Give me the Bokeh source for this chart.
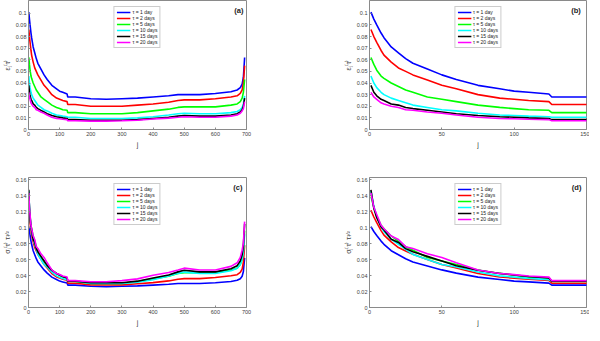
from bokeh.plotting import figure
from bokeh.models import Range1d, FixedTicker, NumeralTickFormatter, Label
from bokeh.layouts import column, row
from bokeh.embed import file_html
from bokeh.resources import INLINE
import math

# ---------------- data ----------------
taus = [1, 2, 5, 10, 15, 20]
tau_labels = ["τ = 1 day", "τ = 2 days", "τ = 5 days", "τ = 10 days", "τ = 15 days", "τ = 20 days"]
colors = ["#0000ff", "#ff0000", "#00ff00", "#00ffff", "#000000", "#ff00ff"]

j_vals = [1, 3, 5, 8, 10, 15, 20, 25, 30, 40, 50, 60, 75, 90, 100, 110, 124, 126, 150,
          200, 250, 300, 350, 400, 450, 480, 500, 550, 600, 650, 670, 680, 686, 690, 694]

eps_tau1 = [0.101, 0.095, 0.090, 0.083, 0.079, 0.071, 0.066, 0.061, 0.057, 0.052, 0.047, 0.043,
            0.038, 0.035, 0.033, 0.032, 0.0305, 0.028, 0.028, 0.0265, 0.026, 0.0265, 0.027, 0.028,
            0.029, 0.030, 0.030, 0.030, 0.031, 0.0325, 0.034, 0.036, 0.039, 0.045, 0.062]
eps_tau2 = [0.086, 0.080, 0.075, 0.068, 0.064, 0.058, 0.053, 0.050, 0.047, 0.0425, 0.038, 0.035,
            0.030, 0.027, 0.026, 0.025, 0.024, 0.0215, 0.0215, 0.020, 0.020, 0.020, 0.021, 0.022,
            0.0235, 0.025, 0.0255, 0.0255, 0.0265, 0.028, 0.029, 0.031, 0.034, 0.040, 0.055]
eps_tau5 = [0.062, 0.056, 0.051, 0.046, 0.044, 0.040, 0.037, 0.034, 0.032, 0.028, 0.026, 0.024,
            0.021, 0.019, 0.018, 0.017, 0.0165, 0.0145, 0.0145, 0.0135, 0.0135, 0.0135, 0.0145, 0.016,
            0.0175, 0.019, 0.0195, 0.0195, 0.0195, 0.021, 0.022, 0.024, 0.027, 0.032, 0.043]
eps_tau10 = [0.046, 0.040, 0.036, 0.032, 0.030, 0.027, 0.025, 0.023, 0.021, 0.019, 0.017, 0.016,
             0.014, 0.0125, 0.012, 0.0115, 0.011, 0.0105, 0.0105, 0.0095, 0.0095, 0.0095, 0.010, 0.011,
             0.0125, 0.0135, 0.014, 0.0135, 0.0135, 0.0145, 0.0155, 0.017, 0.019, 0.022, 0.029]
eps_tau15 = [0.038, 0.032, 0.029, 0.026, 0.025, 0.022, 0.021, 0.019, 0.018, 0.0165, 0.015, 0.0135,
             0.012, 0.011, 0.0105, 0.010, 0.0095, 0.0085, 0.0085, 0.008, 0.008, 0.008, 0.0085, 0.0095,
             0.0105, 0.0115, 0.012, 0.0115, 0.0115, 0.0125, 0.0135, 0.015, 0.017, 0.020, 0.027]
eps_tau20 = [0.032, 0.028, 0.026, 0.023, 0.022, 0.020, 0.019, 0.017, 0.0165, 0.015, 0.014, 0.0125,
             0.0105, 0.0095, 0.0092, 0.0088, 0.0085, 0.0075, 0.0075, 0.0072, 0.0072, 0.0075, 0.008, 0.009,
             0.0098, 0.0105, 0.011, 0.0105, 0.0105, 0.0115, 0.0125, 0.014, 0.016, 0.018, 0.024]

eps_series = [eps_tau1, eps_tau2, eps_tau5, eps_tau10, eps_tau15, eps_tau20]

xticks_full = [0, 100, 200, 300, 400, 500, 600, 700]
xticks_zoom = [0, 50, 100, 150]
yticks_eps = [0, 0.01, 0.02, 0.03, 0.04, 0.05, 0.06, 0.07, 0.08, 0.09, 0.1]
yticks_sig = [0, 0.02, 0.04, 0.06, 0.08, 0.1, 0.12, 0.14, 0.16]

FONT = "Liberation Sans"
AX = "#8a8a8a"
TXT = "#404040"


def make_panel(series, xmax, ymax, xticks, yticks, ylabel, tag, tag_x, tag_y,
               frame_w, frame_h, b_left, b_right, b_top, b_bottom):
    p = figure(frame_width=frame_w, frame_height=frame_h,
               min_border_left=b_left, min_border_right=b_right,
               min_border_top=b_top, min_border_bottom=b_bottom,
               x_range=Range1d(0, xmax), y_range=Range1d(0, ymax),
               output_backend="svg", toolbar_location=None, tools="")
    p.background_fill_color = "white"
    p.border_fill_color = "white"
    p.outline_line_color = AX
    p.outline_line_width = 1
    p.grid.visible = False
    for ys, c, lab in zip(series, colors, tau_labels):
        p.line(j_vals, ys, line_color=c, line_width=1.6, legend_label=lab)
    for ax in (p.xaxis[0], p.yaxis[0]):
        ax.axis_line_color = AX
        ax.major_tick_line_color = AX
        ax.major_tick_in = 2
        ax.major_tick_out = 0
        ax.minor_tick_line_color = None
        ax.major_label_text_font = FONT
        ax.major_label_text_font_size = "5.5px"
        ax.major_label_text_color = TXT
        ax.major_label_standoff = 2
        ax.axis_label_text_font = FONT
        ax.axis_label_text_font_size = "7px"
        ax.axis_label_text_font_style = "normal"
        ax.axis_label_text_color = TXT
        ax.axis_label_standoff = 2
    p.xaxis.ticker = FixedTicker(ticks=xticks)
    p.yaxis.ticker = FixedTicker(ticks=yticks)
    p.yaxis.formatter = NumeralTickFormatter(format="0.[00]")
    p.xaxis.axis_label = "j"
    p.yaxis.axis_label = ylabel
    lg = p.legend[0]
    lg.location = "top_center"
    lg.margin = 6
    lg.padding = 2
    lg.spacing = 0
    lg.label_height = 6
    lg.glyph_height = 6
    lg.glyph_width = 14
    lg.label_standoff = 2
    lg.label_text_font = FONT
    lg.label_text_font_size = "5px"
    lg.label_text_color = "#222222"
    lg.border_line_color = "#9a9a9a"
    lg.border_line_width = 1
    lg.background_fill_color = "white"
    lg.background_fill_alpha = 1.0
    lg.label_text_line_height = 1.0
    p.add_layout(Label(x=tag_x, y=tag_y, text=tag, text_align="right", text_baseline="middle",
                       text_font=FONT, text_font_style="bold", text_font_size="7.5px",
                       text_color="#222222"))
    return p


sig_series = [[v * math.sqrt(t) for v in s] for s, t in zip(eps_series, taus)]

ylab_eps = "εⱼ⁽τ⁾"
ylab_sig = "σⱼ⁽τ⁾ τ¹⁄²"

pa = make_panel(eps_series, 700, 0.111, xticks_full, yticks_eps, ylab_eps, "(a)", 690, 0.1025,
                218, 129, 23, 51, 0, 33)
pb = make_panel(eps_series, 150, 0.111, xticks_zoom, yticks_eps, ylab_eps, "(b)", 146, 0.1025,
                217, 129, 72, 3, 0, 33)
pc = make_panel(sig_series, 700, 0.1625, xticks_full, yticks_sig, ylab_sig, "(c)", 687, 0.1505,
                218, 130, 23, 51, 15, 18)
pd = make_panel(sig_series, 150, 0.1625, xticks_zoom, yticks_sig, ylab_sig, "(d)", 146.5, 0.1505,
                217, 130, 72, 3, 15, 18)

layout = column(row(pa, pb), row(pc, pd))
open("out.html", "w").write(file_html(layout, INLINE))
